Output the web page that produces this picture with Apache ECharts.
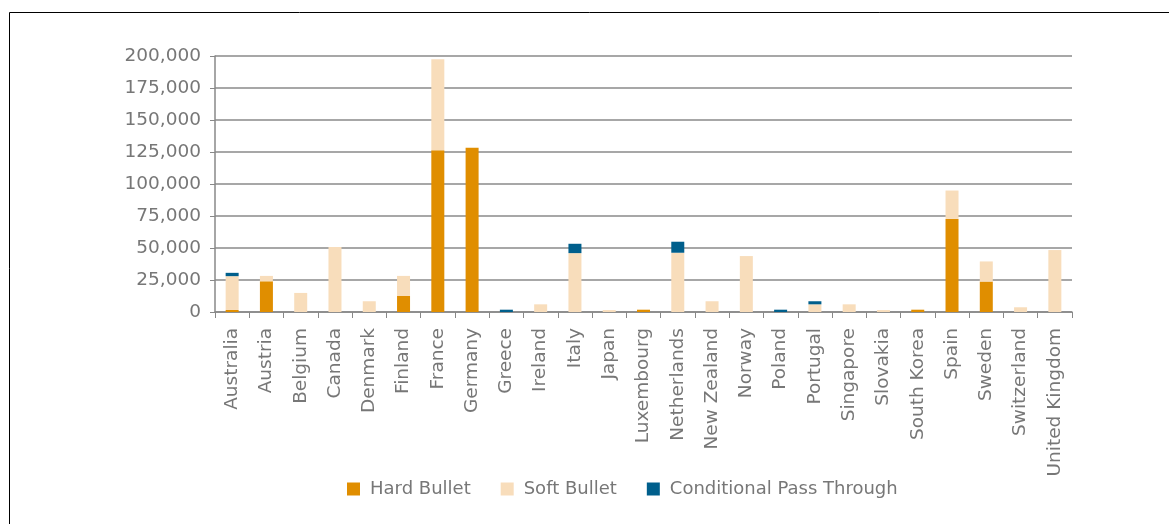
<!DOCTYPE html>
<html><head><meta charset="utf-8">
<script src="https://cdn.jsdelivr.net/npm/echarts@6/dist/echarts.min.js"></script>
<style>html,body{margin:0;padding:0;background:#fff;}#c{width:1169px;height:524px;}</style>
</head><body><div id="c"></div>
<script>
const categories = ["Australia","Austria","Belgium","Canada","Denmark","Finland","France","Germany","Greece","Ireland","Italy","Japan","Luxembourg","Netherlands","New Zealand","Norway","Poland","Portugal","Singapore","Slovakia","South Korea","Spain","Sweden","Switzerland","United Kingdom"];
const hardBullet = [1600,24000,0,0,0,12500,126300,128400,0,0,0,0,1800,0,0,0,0,0,0,0,1800,72700,23800,0,0];
const softBullet = [26400,4200,14900,50700,8400,15700,71100,0,0,6000,46000,1500,0,46300,8400,43700,0,6000,6000,1500,0,22200,15700,3700,48400];
const conditionalPassThrough = [2600,0,0,0,0,0,0,0,1800,0,7300,0,0,8600,0,0,1800,2400,0,0,0,0,0,0,0];
const yTicks = [0,25000,50000,75000,100000,125000,150000,175000,200000];

const font = "DejaVu Sans";
const txt = '#777777';
const chart = echarts.init(document.getElementById('c'));
chart.setOption({
  animation: false,
  textStyle: {fontFamily: font},
  graphic: [
    {type:'line', shape:{x1:9.5,y1:12.5,x2:1169,y2:12.5}, style:{stroke:'#000',lineWidth:1}},
    {type:'line', shape:{x1:9.5,y1:12.5,x2:9.5,y2:524}, style:{stroke:'#000',lineWidth:1}}
  ],
  grid: {left:215, right:97, top:56, bottom:212, containLabel:false},
  legend: {
    top: 475, left: 342, itemWidth: 13, itemHeight: 13, itemGap: 30,
    icon: 'rect',
    textStyle: {color: txt, fontSize: 18, fontFamily: font, padding:[0,0,0,5]},
    data: ['Hard Bullet','Soft Bullet','Conditional Pass Through']
  },
  xAxis: {
    type: 'category', data: categories,
    axisLine: {lineStyle:{color:'#888', width:1.5}},
    axisTick: {show:true, length:6, lineStyle:{color:'#888'}, alignWithLabel:false},
    axisLabel: {rotate:90, color: txt, fontSize:18.5, margin:16, fontFamily: font, interval:0}
  },
  yAxis: {
    type: 'value', min: 0, max: 200000, interval: 25000,
    axisLine: {show:true, lineStyle:{color:'#888', width:1.5}},
    axisTick: {show:true, length:5, lineStyle:{color:'#888'}},
    splitLine: {lineStyle:{color:'#8a8a8a', width:1.5}},
    axisLabel: {color: txt, fontSize:18.5, margin:14, fontFamily: font,
      formatter: v => yTicks.includes(v) ? v.toLocaleString('en-US') : ''}
  },
  series: [
    {name:'Hard Bullet', type:'bar', stack:'s', data: hardBullet, barWidth:13, itemStyle:{color:'#E08E00'}},
    {name:'Soft Bullet', type:'bar', stack:'s', data: softBullet, barWidth:13, itemStyle:{color:'#F8DDBB'}},
    {name:'Conditional Pass Through', type:'bar', stack:'s', data: conditionalPassThrough, barWidth:13, itemStyle:{color:'#005F8C'}}
  ]
});
</script></body></html>
